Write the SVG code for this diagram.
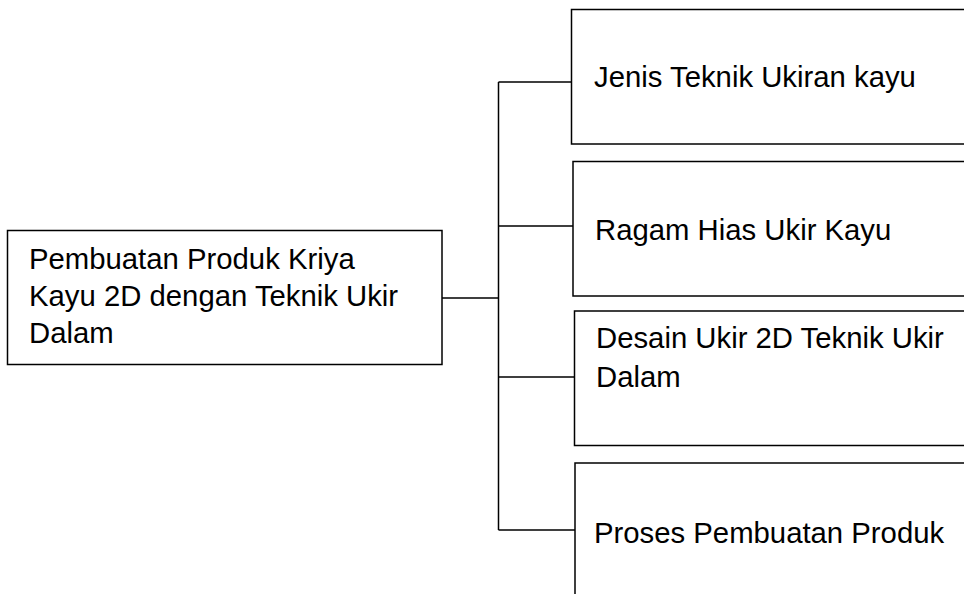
<svg xmlns="http://www.w3.org/2000/svg" width="964" height="594" viewBox="0 0 964 594">
<style>
.box{fill:#fff;stroke:#000;stroke-width:1.5}
.ln{fill:none;stroke:#000;stroke-width:1.5}
text{font-family:"Liberation Sans",Arial,sans-serif;font-size:29.3px;fill:#000}
</style>
<rect width="964" height="594" fill="#fff"/>
<g id="connectors">
<path class="ln" d="M442 298H498.5M498.5 82V530M498.5 82H571.5M498.5 226H573M498.5 377H574.5M498.5 530H575"/>
</g>
<g id="root">
<rect class="box" x="7.5" y="230.5" width="434.5" height="134"/>
<text x="29" y="269">Pembuatan Produk Kriya</text>
<text x="29" y="306">Kayu 2D dengan Teknik Ukir</text>
<text x="29" y="343">Dalam</text>
</g>
<g id="n1">
<rect class="box" x="571.5" y="9.5" width="420" height="134.5"/>
<text x="594" y="87">Jenis Teknik Ukiran kayu</text>
</g>
<g id="n2">
<rect class="box" x="573" y="161.5" width="420" height="134.5"/>
<text x="595" y="240">Ragam Hias Ukir Kayu</text>
</g>
<g id="n3">
<rect class="box" x="574.5" y="311" width="420" height="134.5"/>
<text x="596" y="348">Desain Ukir 2D Teknik Ukir</text>
<text x="596" y="387">Dalam</text>
</g>
<g id="n4">
<rect class="box" x="575" y="463" width="420" height="160"/>
<text x="594" y="543">Proses Pembuatan Produk</text>
</g>
</svg>
